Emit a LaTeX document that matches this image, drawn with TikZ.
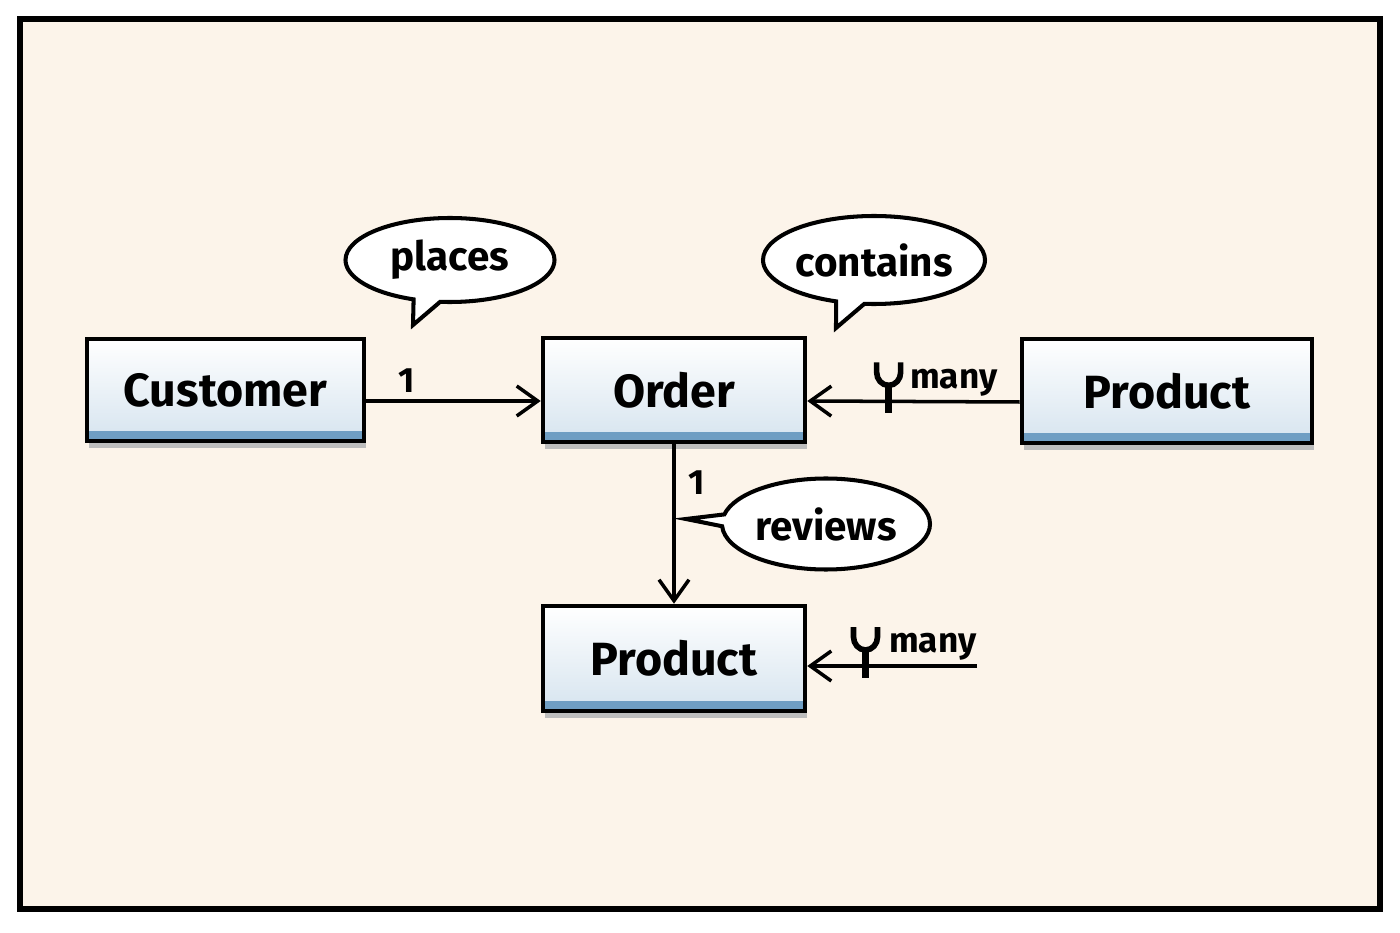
\documentclass[tikz,border=0pt]{standalone}
\usepackage{fontspec}
\setmainfont{Fira Sans}
\usepackage{tikz}
\usetikzlibrary{arrows.meta, positioning, shapes.callouts, shadows, calc}

\definecolor{paper}{HTML}{FCF4EA}
\definecolor{boxbot}{HTML}{D6E4EF}
\definecolor{stripe}{HTML}{6F9EC3}
\definecolor{shade}{HTML}{BDBDBD}

\begin{document}
\begin{tikzpicture}[
    entity/.style={draw, line width=2.6pt, top color=white, bottom color=boxbot,
        font=\bfseries\fontsize{26.5}{29}\selectfont, inner sep=0pt,
        drop shadow={shadow xshift=0.03cm, shadow yshift=-0.14cm, fill=shade, opacity=1},
        path picture={\fill[stripe] (path picture bounding box.south west) rectangle ([yshift=0.2cm]path picture bounding box.south east);}},
    bubble/.style={ellipse callout, draw, line width=2.3pt, fill=white, inner sep=0pt,
        font=\bfseries\fontsize{23}{25}\selectfont},
    conn/.style={line width=2pt, -{Straight Barb[length=4.2mm, width=6mm, line width=2pt]}},
    card/.style={font=\bfseries\fontsize{20}{22}\selectfont, inner sep=1pt},
    fork/.pic={
        \draw[line width=3.2pt, -] (-0.24,0.78) -- (-0.24,0.58) to[out=-90,in=180] (0,0.32) to[out=0,in=-90] (0.24,0.58) -- (0.24,0.78);
        \draw[line width=4pt, -] (0,0.36) -- (0,-0.24);
    }
]
    \useasboundingbox (0,0) rectangle (28,-18.66);

    % Frame
    \draw[line width=3.4pt, fill=paper] (0.4,-0.38) rectangle (27.6,-18.18);

    % Entities
    \node[entity, minimum width=5.54cm, minimum height=2.04cm] (cust) at (4.51,-7.8) {Customer};
    \node[entity, minimum width=5.24cm, minimum height=2.08cm] (order) at (13.48,-7.8) {Order};
    \node[entity, minimum width=5.8cm, minimum height=2.08cm] (prodR) at (23.34,-7.82) {Product};
    \node[entity, minimum width=5.24cm, minimum height=2.1cm] (prodB) at (13.48,-13.17) {Product};

    % Relationships
    \draw[conn] ([yshift=-0.22cm]cust.east) -- node[pos=0.23, above=3pt, card] (one1) {1} ([yshift=-0.22cm]order.west);
    \draw[conn] ([yshift=-0.22cm]prodR.west) -- node[pos=0.31, above=1pt, card] (many1) {many}
        coordinate[pos=0.617] (f1) ([yshift=-0.22cm]order.east);
    \draw[conn] (order.south) -- node[pos=0.24, right=6pt, card] (one2) {1} (prodB.north);
    \coordinate (b1) at (19.54,-13.32);
    \draw[conn] (b1) -- node[pos=0.26, above=1pt, card] (many2) {many}
        coordinate[pos=0.657] (f2) (prodB.east |- b1);

    % Crow's feet
    \pic at (f1) {fork};
    \pic at (f2) {fork};

    % Bubbles
    \node[bubble, minimum width=4.18cm, minimum height=1.68cm, callout absolute pointer={(8.26,-6.5)}] (places) at (9.0,-5.2) {places};
    \node[bubble, minimum width=4.44cm, minimum height=1.76cm, callout absolute pointer={(16.72,-6.56)}] (contains) at (17.48,-5.2) {contains};
    \node[bubble, minimum width=4.16cm, minimum height=1.82cm, callout absolute pointer={(13.72,-10.38)}] (reviews) at (16.52,-10.48) {reviews};
\end{tikzpicture}
\end{document}
